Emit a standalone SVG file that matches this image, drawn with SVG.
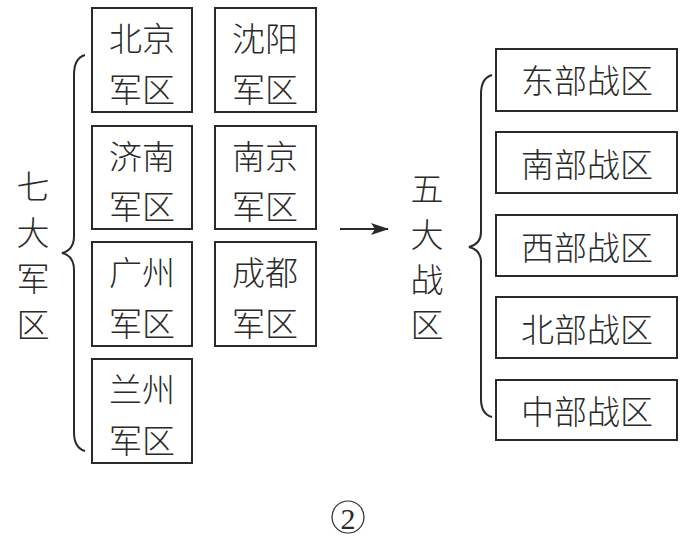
<svg xmlns="http://www.w3.org/2000/svg" width="685" height="541" viewBox="0 0 685 541">
<style>
.box{fill:#fff;stroke:#2a2a2a;stroke-width:2}
.t{font-family:"Noto Sans CJK SC","Noto Sans CJK JP",sans-serif;font-size:33px;fill:#2a2a2a;text-anchor:middle;dominant-baseline:central;font-weight:300}
.br{fill:none;stroke:#2a2a2a;stroke-width:2}
</style>
<defs>
<marker id="ah" markerWidth="18" markerHeight="12" refX="17" refY="6" orient="auto" markerUnits="userSpaceOnUse">
<path d="M0,0 L18,6 L0,12 L4,6 Z" fill="#2a2a2a"/>
</marker>
</defs>
<rect width="685" height="541" fill="#fff"/>
<g id="label-left">
<text class="t" x="33" y="185">七</text>
<text class="t" x="33" y="231">大</text>
<text class="t" x="33" y="277">军</text>
<text class="t" x="33" y="323">区</text>
</g>
<g id="n-beijing"><rect class="box" x="92" y="8" width="100" height="104"/><text class="t" x="142" y="37">北京</text><text class="t" x="142" y="88">军区</text></g>
<g id="n-shenyang"><rect class="box" x="215" y="8" width="101" height="104"/><text class="t" x="265" y="37">沈阳</text><text class="t" x="265" y="88">军区</text></g>
<g id="n-jinan"><rect class="box" x="92" y="126" width="100" height="103"/><text class="t" x="142" y="155">济南</text><text class="t" x="142" y="205">军区</text></g>
<g id="n-nanjing"><rect class="box" x="215" y="126" width="101" height="103"/><text class="t" x="265" y="155">南京</text><text class="t" x="265" y="205">军区</text></g>
<g id="n-guangzhou"><rect class="box" x="92" y="242" width="100" height="104"/><text class="t" x="142" y="271">广州</text><text class="t" x="142" y="322">军区</text></g>
<g id="n-chengdu"><rect class="box" x="215" y="242" width="101" height="104"/><text class="t" x="265" y="271">成都</text><text class="t" x="265" y="322">军区</text></g>
<g id="n-lanzhou"><rect class="box" x="92" y="359" width="100" height="104"/><text class="t" x="142" y="388">兰州</text><text class="t" x="142" y="439">军区</text></g>
<g id="label-right">
<text class="t" x="427" y="187">五</text>
<text class="t" x="427" y="233">大</text>
<text class="t" x="427" y="278">战</text>
<text class="t" x="427" y="323">区</text>
</g>
<g id="n-east"><rect class="box" x="496" y="49" width="181" height="62"/><text class="t" x="587" y="79">东部战区</text></g>
<g id="n-south"><rect class="box" x="496" y="132" width="181" height="61"/><text class="t" x="587" y="163">南部战区</text></g>
<g id="n-west"><rect class="box" x="496" y="215" width="181" height="61"/><text class="t" x="587" y="246">西部战区</text></g>
<g id="n-north"><rect class="box" x="496" y="297" width="181" height="61"/><text class="t" x="587" y="328">北部战区</text></g>
<g id="n-central"><rect class="box" x="496" y="380" width="181" height="60"/><text class="t" x="587" y="410">中部战区</text></g>
<g id="connectors">
<path class="br" d="M85,55 Q74,58 74,75 L74,236 Q74,250 62,253 Q74,256 74,270 L74,432 Q74,448 85,451"/>
<path class="br" d="M492,75 Q481,78 481,94 L481,232 Q481,244 469,247 Q481,250 481,262 L481,399 Q481,414 492,417"/>
<line x1="340" y1="229" x2="388" y2="229" stroke="#2a2a2a" stroke-width="2" marker-end="url(#ah)"/>
</g>
<g id="caption">
<circle cx="348" cy="517" r="16" fill="none" stroke="#2a2a2a" stroke-width="1.2"/>
<text x="348" y="518" font-family="Liberation Serif,serif" font-size="30" fill="#2a2a2a" text-anchor="middle" dominant-baseline="central">2</text>
</g>
</svg>
